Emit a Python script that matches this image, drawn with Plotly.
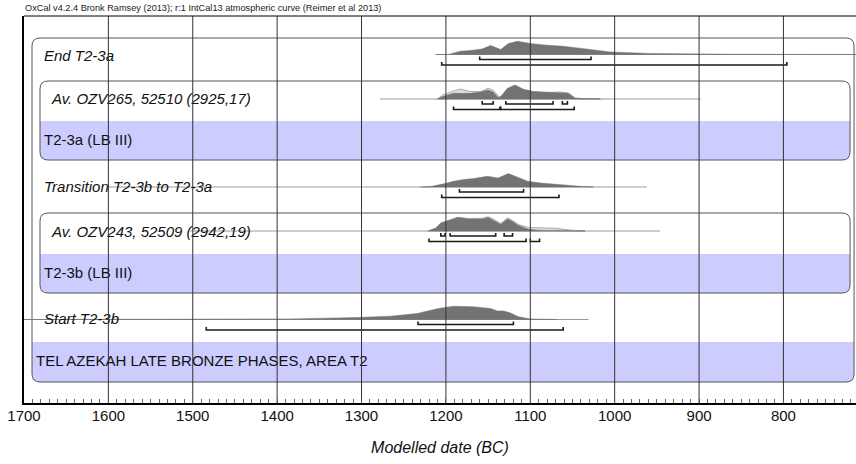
import plotly.graph_objects as go

FONT = "Liberation Sans, Arial, Helvetica, sans-serif"

# ---------------- data ----------------
tick_years = [1700, 1600, 1500, 1400, 1300, 1200, 1100, 1000, 900, 800]
tick_labels = ["1700", "1600", "1500", "1400", "1300", "1200", "1100", "1000", "900", "800"]
grid_years = [1600, 1500, 1400, 1300, 1200, 1100, 1000, 900, 800]

header_text = "OxCal v4.2.4 Bronk Ramsey (2013); r:1 IntCal13 atmospheric curve (Reimer et al 2013)"
axis_title = "Modelled date (BC)"

# End T2-3a (posterior)
end_years = [1212, 1197, 1183, 1171, 1157, 1147, 1135, 1126, 1115, 1100, 1080, 1061, 1044, 1025, 1005, 958, 898, 850, 792, 714]
end_dens = [0, 0, 3.3, 4.0, 5.6, 9.0, 5.0, 11.0, 13.3, 11.0, 9.3, 8.3, 6.6, 4.3, 2.6, 1.0, 0.4, 0.2, 0.1, 0]
end_r68 = [(1160, 1028)]
end_r95 = [(1205, 796)]
end_span = (1212, 714)

# Av. OZV265, 52510 (2925,17)
ozv265_years = [1210, 1204, 1191, 1183, 1171, 1159, 1150, 1144, 1138, 1135, 1127, 1118, 1108, 1096, 1080, 1064, 1055, 1047, 1035, 1017]
ozv265_like = [0, 4.0, 8.0, 10.0, 7.4, 7.4, 10.7, 9.0, 3.0, 1.4, 9.0, 12.0, 9.0, 7.0, 6.5, 7.0, 6.0, 1.0, 0.3, 0]
ozv265_post = [0, 2.4, 5.7, 5.7, 5.7, 7.0, 9.0, 7.0, 1.4, 2.5, 10.7, 14.0, 9.7, 7.4, 6.7, 6.7, 5.7, 0.7, 0.2, 0]
ozv265_r68 = [(1157, 1144), (1129, 1073), (1062, 1056)]
ozv265_r95 = [(1191, 1136), (1135, 1048)]
ozv265_span = (1278, 898)

# Transition T2-3b to T2-3a
trans_years = [1230, 1218, 1201, 1191, 1179, 1167, 1151, 1138, 1126, 1115, 1103, 1088, 1064, 1041, 1025]
trans_dens = [0, 0.5, 3.4, 5.7, 7.4, 8.4, 10.7, 9.0, 13.4, 9.7, 5.7, 4.0, 2.0, 0.7, 0]
trans_r68 = [(1184, 1108)]
trans_r95 = [(1205, 1066)]
trans_span = (1600, 962)

# Av. OZV243, 52509 (2942,19)
ozv243_years = [1221, 1212, 1206, 1200, 1192, 1186, 1173, 1157, 1150, 1144, 1135, 1127, 1121, 1114, 1102, 1088, 1070, 1050, 1035]
ozv243_like = [0, 3.0, 8.0, 9.7, 11.3, 13.7, 12.5, 12.7, 14.2, 12.0, 7.5, 13.0, 10.5, 6.5, 3.5, 3.0, 2.7, 0.7, 0]
ozv243_post = [0, 2.7, 7.7, 9.4, 11.0, 13.4, 12.0, 12.0, 13.4, 11.0, 6.7, 12.0, 9.4, 5.4, 1.7, 0.6, 0.2, 0, 0]
ozv243_r68 = [(1206, 1201), (1195, 1141), (1131, 1121)]
ozv243_r95 = [(1220, 1105), (1100, 1089)]
ozv243_span = (1503, 946)

# Start T2-3b
start_years = [1700, 1467, 1384, 1305, 1266, 1234, 1218, 1209, 1191, 1167, 1147, 1139, 1132, 1124, 1114, 1100, 1068]
start_dens = [0, 0.2, 0.6, 2.0, 3.3, 6.0, 9.3, 11.0, 13.3, 12.7, 11.0, 8.6, 8.6, 6.7, 2.7, 0.6, 0]
start_r68 = [(1233, 1120)]
start_r95 = [(1484, 1061)]
start_span = (1700, 1031)

# ---------------- layout constants ----------------
X_MIN, X_MAX = 1700, 714
Y_BOT, Y_TOP = 403, 16
PX = 0.84375  # px per year

def yr(px):
    return 1700 - (px - 24) / PX

LAV = "#ccccff"
BOX_LINE = "#555555"
DARK = "#737373"
LIGHT_FILL = "#dedede"
LIGHT_LINE = "#aaaaaa"
BASE = "#9a9a9a"
BRK = "#1a1a1a"
GRID = "#333333"

fig = go.Figure()

def rr_path(xl, xr, yt, yb, r=8, top=True, bottom=True):
    rx = r / PX
    ry = r
    p = []
    if top:
        p.append(f"M {xl - rx},{yt} L {xr + rx},{yt} Q {xr},{yt} {xr},{yt + ry}")
    else:
        p.append(f"M {xl},{yt} L {xr},{yt}")
    if bottom:
        p.append(f"L {xr},{yb - ry} Q {xr},{yb} {xr + rx},{yb} L {xl - rx},{yb} Q {xl},{yb} {xl},{yb - ry}")
    else:
        p.append(f"L {xr},{yb} L {xl},{yb}")
    if top:
        p.append(f"L {xl},{yt + ry} Q {xl},{yt} {xl - rx},{yt} Z")
    else:
        p.append("Z")
    return " ".join(p)

shapes = []
def box(xl_px, xr_px, yt, yb, band_top):
    xl, xr = yr(xl_px), yr(xr_px)
    shapes.append(dict(type="path", path=rr_path(xl, xr, yt, yb), fillcolor="white",
                       line=dict(width=0), layer="below", xref="x", yref="y"))
    shapes.append(dict(type="path", path=rr_path(xl, xr, band_top, yb, top=False), fillcolor=LAV,
                       line=dict(width=0), layer="below", xref="x", yref="y"))
    shapes.append(dict(type="path", path=rr_path(xl, xr, yt, yb), fillcolor="rgba(0,0,0,0)",
                       line=dict(width=1, color=BOX_LINE), layer="below", xref="x", yref="y"))

box(32, 854, 38, 382, 342)
box(40, 850, 81, 160, 121)
box(40, 850, 213, 293, 254)

shapes.append(dict(type="line", xref="paper", yref="paper", x0=0, x1=1, y0=1, y1=1,
                   line=dict(color="black", width=1)))

def dist(years, dens, base, fill, line_col, lw=0.8):
    xs = list(years) + list(years[::-1])
    ys = [base - d for d in dens] + [base] * len(years)
    fig.add_trace(go.Scatter(x=xs, y=ys, mode="lines", fill="toself", fillcolor=fill,
                             line=dict(color=line_col, width=lw), hoverinfo="skip", showlegend=False))

def baseline(span, base):
    fig.add_trace(go.Scatter(x=list(span), y=[base, base], mode="lines",
                             line=dict(color=BASE, width=1), hoverinfo="skip", showlegend=False))

def brackets(ranges, y):
    xs, ys = [], []
    for a, b in ranges:
        xs += [a, a, b, b, None]
        ys += [y - 3, y, y, y - 3, None]
    fig.add_trace(go.Scatter(x=xs, y=ys, mode="lines", line=dict(color=BRK, width=1.6),
                             hoverinfo="skip", showlegend=False))

rows = [
    (end_span, 54.5, None, None, end_years, end_dens, end_r68, end_r95),
    (ozv265_span, 99, ozv265_years, ozv265_like, ozv265_years, ozv265_post, ozv265_r68, ozv265_r95),
    (trans_span, 187, None, None, trans_years, trans_dens, trans_r68, trans_r95),
    (ozv243_span, 231, ozv243_years, ozv243_like, ozv243_years, ozv243_post, ozv243_r68, ozv243_r95),
    (start_span, 319.5, None, None, start_years, start_dens, start_r68, start_r95),
]
for span, base, ly, ld, py, pd_, r68, r95 in rows:
    baseline(span, base)
    if ly is not None:
        dist(ly, ld, base, LIGHT_FILL, LIGHT_LINE, 1)
    dist(py, pd_, base, DARK, DARK, 0.5)
    brackets(r68, base + 5)
    brackets(r95, base + 10.5)

labels = [
    ("End T2-3a", 44, 57, "italic"),
    ("Av. OZV265, 52510 (2925,17)", 52, 100, "italic"),
    ("T2-3a (LB III)", 44, 141, "normal"),
    ("Transition T2-3b to T2-3a", 44, 188, "italic"),
    ("Av. OZV243, 52509 (2942,19)", 52, 233, "italic"),
    ("T2-3b (LB III)", 44, 274, "normal"),
    ("Start T2-3b", 44, 320, "italic"),
    ("TEL AZEKAH LATE BRONZE PHASES, AREA T2", 36, 362, "normal"),
]
for txt, xpx, ypx, style in labels:
    fig.add_trace(go.Scatter(x=[yr(xpx)], y=[ypx], mode="text", text=[txt],
                             textposition="middle right",
                             textfont=dict(family=FONT, size=15, color="#111111", style=style),
                             hoverinfo="skip", showlegend=False))

# grid lines on top
gx, gy = [], []
for g in grid_years:
    gx += [g, g, None]
    gy += [Y_BOT, Y_TOP, None]
fig.add_trace(go.Scatter(x=gx, y=gy, mode="lines", line=dict(color=GRID, width=1),
                         hoverinfo="skip", showlegend=False))

fig.add_annotation(text=header_text, xref="paper", yref="paper", x=-0.001, y=1.0, yshift=1,
                   xanchor="left", yanchor="bottom", showarrow=False,
                   font=dict(family=FONT, size=9.2, color="#222222"))

fig.update_layout(
    width=856, height=464,
    margin=dict(l=24, r=0, t=16, b=61, autoexpand=False),
    paper_bgcolor="white", plot_bgcolor="white",
    shapes=shapes,
    showlegend=False,
    xaxis=dict(range=[X_MIN, X_MAX], tickvals=tick_years, ticktext=tick_labels, automargin=False,
               ticks="inside", ticklen=4, tickcolor="#555", showgrid=False, zeroline=False,
               showline=True, linecolor="black", linewidth=2, ticklabelstandoff=-2,
               minor=dict(dtick=10, tick0=0, ticks="inside", ticklen=4, tickcolor="#666", showgrid=False),
               tickfont=dict(family=FONT, size=15, color="#111111"),
               title=dict(text=axis_title, font=dict(family=FONT, size=16, color="#111111", style="italic"),
                          standoff=19)),
    yaxis=dict(range=[Y_BOT, Y_TOP], showgrid=False, zeroline=False, showticklabels=False,
               ticks="", showline=True, linecolor="black", linewidth=2, automargin=False),
)

fig.write_html("out.html", config={"displayModeBar": False},
               post_script="document.body.style.margin='0px';")
